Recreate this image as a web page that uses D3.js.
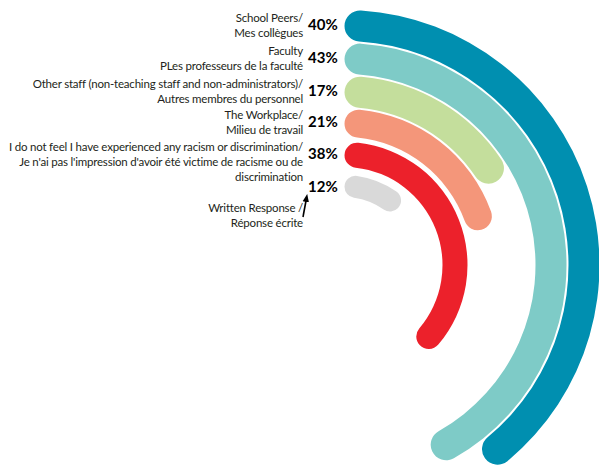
<!DOCTYPE html>
<html>
<head>
<meta charset="utf-8">
<script src="https://cdn.jsdelivr.net/npm/d3@7"></script>
<style>
  html, body { margin: 0; padding: 0; background: #fff; }
  svg { display: block; }
  .lbl { font-family: Lato, "Open Sans", sans-serif; font-size: 11.5px; letter-spacing: -0.2px; fill: #231f20; }
  .pct { font-family: Lato, "Open Sans", sans-serif; font-size: 15px; font-weight: 700; fill: #000; }
</style>
</head>
<body>
<script>
// Survey responses: where racism or discrimination was experienced
const labelLines = [
  ["School Peers/", "Mes collègues"],
  ["Faculty", "PLes professeurs de la faculté"],
  ["Other staff (non-teaching staff and non-administrators)/", "Autres membres du personnel"],
  ["The Workplace/", "Milieu de travail"],
  ["I do not feel I have experienced any racism or discrimination/",
   "Je n'ai pas l'impression d'avoir été victime de racisme ou de",
   "discrimination"],
  ["Written Response /", "Réponse écrite"]
];
const values = [40, 43, 17, 21, 38, 12];
const colors = ["#008fb0", "#7ecbc7", "#c4de9c", "#f4967a", "#ec212b", "#d9d9d9"];

const W = 599, H = 469;
const cx = 344.5, cy = 265;

const svg = d3.select("body").append("svg").attr("width", W).attr("height", H);

const idx = d3.range(values.length);
const angle = d3.scaleLinear().domain([0, 100]).range([0, 2 * Math.PI]);
// ring placement: outer edge of each ring, and ring thickness (inner rings are thinner)
const outerR = d3.scaleLinear().domain([0, values.length - 1]).range([255, 90]);
const thick = d3.scaleLinear().domain([0, 2, values.length - 1]).range([31, 31, 22]);

const g = svg.append("g").attr("transform", `translate(${cx},${cy})`);

const arc = d3.arc()
  .startAngle(0)
  .endAngle(i => angle(values[i]))
  .outerRadius(i => outerR(i))
  .innerRadius(i => outerR(i) - thick(i))
  .cornerRadius(i => thick(i) / 2);

g.selectAll("path.ring")
  .data(idx)
  .join("path")
  .attr("class", "ring")
  .attr("fill", i => colors[i])
  .attr("d", arc);

// vertical middle of each ring where it starts (12 o'clock)
const ringMidY = i => cy - (outerR(i) - thick(i) / 2);
const labelX = 303, pctX = 308;

// percentage labels
svg.selectAll("text.pct")
  .data(idx)
  .join("text")
  .attr("class", "pct")
  .attr("x", pctX)
  .attr("y", i => ringMidY(i) + (i === values.length - 1 ? 6 : 4))
  .text(i => values[i] + "%");

// category labels; the last one sits below its value with a pointer arrow
const last = values.length - 1;
const lbl = svg.selectAll("text.lbl")
  .data(idx)
  .join("text")
  .attr("class", "lbl")
  .attr("text-anchor", "end")
  .attr("x", labelX)
  .attr("y", i => i === last ? ringMidY(i) + 26 : ringMidY(i) - 4);

lbl.selectAll("tspan")
  .data(i => labelLines[i])
  .join("tspan")
  .attr("x", labelX)
  .attr("dy", (d, j) => j === 0 ? 0 : 15)
  .text(d => d);

svg.append("defs").append("marker")
  .attr("id", "arrowhead")
  .attr("viewBox", "0 0 10 10")
  .attr("refX", 5).attr("refY", 5)
  .attr("markerWidth", 5).attr("markerHeight", 5)
  .attr("orient", "auto")
  .append("path")
  .attr("d", "M0,1 L10,5 L0,9 Z")
  .attr("fill", "#000");

svg.append("line")
  .attr("x1", 303).attr("y1", ringMidY(last) + 31)
  .attr("x2", 306.5).attr("y2", ringMidY(last) + 12)
  .attr("stroke", "#000")
  .attr("stroke-width", 1.6)
  .attr("marker-end", "url(#arrowhead)");
</script>
</body>
</html>
